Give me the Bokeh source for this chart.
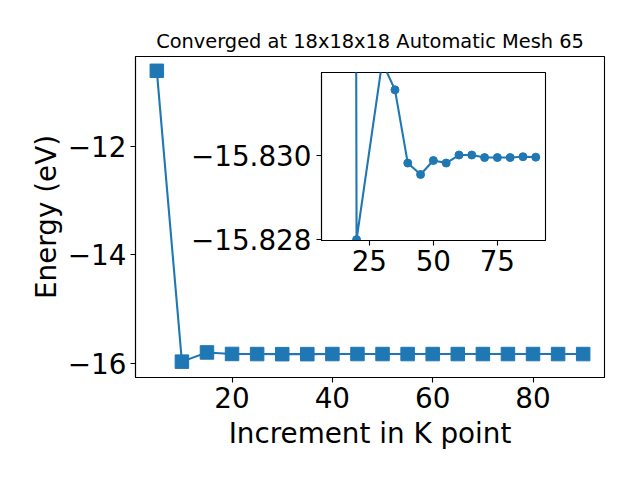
from bokeh.plotting import figure
from bokeh.layouts import column
from bokeh.models import Range1d, FixedTicker
from bokeh.embed import file_html
from bokeh.resources import INLINE

# ---- data ----
k_points = [5, 10, 15, 20, 25, 30, 35, 40, 45, 50, 55, 60, 65, 70, 75, 80, 85, 90]
energy = [-10.60, -15.97, -15.80, -15.828, -15.830, -15.8322, -15.8315, -15.8298,
          -15.8295, -15.8299, -15.8298, -15.8300, -15.8300, -15.8299, -15.8299,
          -15.8299, -15.8300, -15.8300]

inset_k = [15, 20, 30, 35, 40, 45, 50, 55, 60, 65, 70, 75, 80, 85, 90]
inset_energy = [-15.97, -15.828, -15.8322, -15.83154, -15.82981, -15.82954, -15.82987,
                -15.82981, -15.83000, -15.83000, -15.82994, -15.82994, -15.82994,
                -15.82996, -15.82995]

main_xticks = [20, 40, 60, 80]
main_yticks = [-16, -14, -12]
main_ytick_labels = ["\u221216", "\u221214", "\u221212"]
inset_xticks = [25, 50, 75]
inset_yticks = [-15.830, -15.828]
inset_ytick_labels = ["\u221215.830", "\u221215.828"]

title_text = "Converged at 18x18x18 Automatic Mesh 65"
x_label = "Increment in K point"
y_label = "Energy (eV)"

BLUE = "#1f77b4"
FONT = "DejaVu Sans"
TICK_SIZE = "27.8px"
LEFT_BORDER = 135  # shared: the column aligns the frames' left edges


def style_axes(fig, xticks, yticks, ylabels, ystandoff):
    fig.xgrid.visible = False
    fig.ygrid.visible = False
    fig.outline_line_color = "black"
    fig.outline_line_width = 1.1
    fig.outline_line_alpha = 1.0
    for ax in (fig.xaxis[0], fig.yaxis[0]):
        ax.axis_line_color = "black"
        ax.axis_line_width = 1.1
        ax.major_tick_out = 5
        ax.major_tick_in = 0
        ax.major_tick_line_width = 1.1
        ax.major_tick_line_color = "black"
        ax.minor_tick_line_color = None
        ax.major_label_text_font = FONT
        ax.major_label_text_font_size = TICK_SIZE
        ax.major_label_text_color = "black"
        ax.axis_label_text_font = FONT
        ax.axis_label_text_font_size = TICK_SIZE
        ax.axis_label_text_font_style = "normal"
        ax.axis_label_text_color = "black"
    fig.xaxis[0].ticker = FixedTicker(ticks=xticks)
    fig.yaxis[0].ticker = FixedTicker(ticks=yticks)
    fig.yaxis[0].major_label_overrides = dict(zip(yticks, ylabels))
    fig.xaxis[0].major_label_standoff = 4
    fig.yaxis[0].major_label_standoff = ystandoff


# ---- main plot ----
p = figure(width=640, height=472,
           x_range=Range1d(0.75, 94.25), y_range=Range1d(-16.263, -10.336),
           min_border_left=LEFT_BORDER, min_border_right=36, min_border_top=56,
           min_border_bottom=95,
           output_backend="svg", toolbar_location=None, title=title_text)
style_axes(p, main_xticks, main_yticks, main_ytick_labels, 4)
p.xaxis[0].axis_label = x_label
p.yaxis[0].axis_label = y_label
p.xaxis[0].axis_label_standoff = 6
p.yaxis[0].axis_label_standoff = 2
p.title.align = "center"
p.title.text_font = FONT
p.title.text_font_size = "19.4px"
p.title.text_font_style = "normal"
p.title.text_color = "black"
p.title.standoff = 7

p.line(k_points, energy, line_width=2.1, color=BLUE)
p.scatter(k_points, energy, marker="square", size=13.5, color=BLUE)

# ---- inset ----
q = figure(frame_width=224, frame_height=168,
           x_range=Range1d(6.3, 93.8), y_range=Range1d(-15.82798, -15.83195),
           min_border_left=LEFT_BORDER, min_border_right=4, min_border_top=4,
           min_border_bottom=45,
           output_backend="svg", toolbar_location=None,
           border_fill_color=None, background_fill_color="white")
style_axes(q, inset_xticks, inset_yticks, inset_ytick_labels, 5)
q.line(inset_k, inset_energy, line_width=2.1, color=BLUE)
q.scatter(inset_k, inset_energy, marker="circle", size=8, color=BLUE)
q.styles = {"position": "absolute", "left": "186px", "top": "68px"}

layout = column(p, q)

open("out.html", "w", encoding="utf-8").write(file_html(layout, INLINE))
